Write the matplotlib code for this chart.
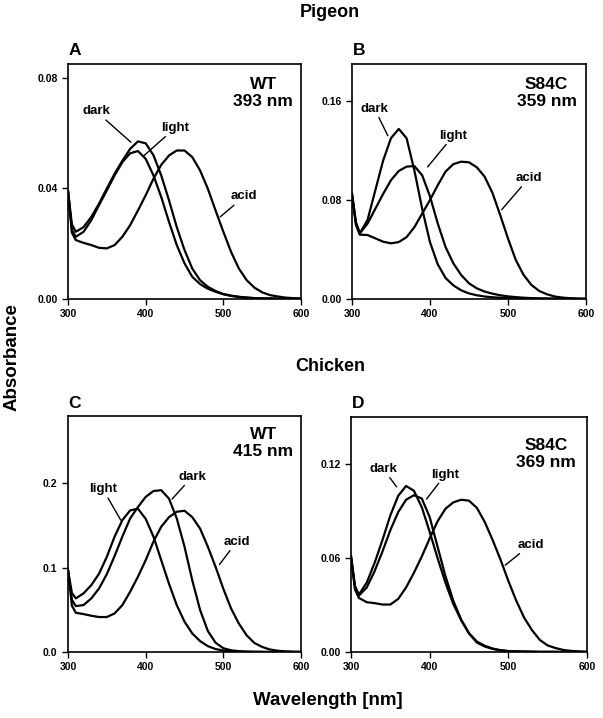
import matplotlib
matplotlib.use("Agg")
import matplotlib.pyplot as plt

plt.rcParams["font.family"] = ["Liberation Sans", "DejaVu Sans"]
plt.rcParams["font.weight"] = "bold"

# ---------- Data ----------
wavelength = [300, 305, 310, 320, 330, 340, 350, 360, 370, 380, 390, 400, 410, 420, 430, 440,
              450, 460, 470, 480, 490, 500, 510, 520, 530, 540, 550, 560, 570, 580, 590, 600]

# Pigeon WT (A)
pig_wt_dark = [0.039, 0.027, 0.0243, 0.026, 0.0297, 0.0345, 0.040, 0.0453, 0.050, 0.0543, 0.057,
               0.0563, 0.052, 0.0447, 0.0357, 0.026, 0.0177, 0.011, 0.0068, 0.0044, 0.0029, 0.0018,
               0.0012, 0.0008, 0.0005, 0.0003, 0.0002, 0.0002, 0.0001, 0.0001, 0.0001, 0.0]
pig_wt_light = [0.039, 0.025, 0.0225, 0.0243, 0.0285, 0.034, 0.0393, 0.0447, 0.0495, 0.0527, 0.0535,
                0.0507, 0.0447, 0.0369, 0.0279, 0.0195, 0.0129, 0.008, 0.0054, 0.0037, 0.0026, 0.0017,
                0.0011, 0.0007, 0.0005, 0.0003, 0.0002, 0.0002, 0.0001, 0.0001, 0.0001, 0.0]
pig_wt_acid = [0.039, 0.024, 0.0213, 0.0203, 0.0195, 0.0185, 0.0183, 0.0195, 0.0225, 0.0267, 0.032,
               0.0375, 0.0435, 0.0485, 0.0519, 0.0537, 0.0537, 0.0513, 0.0465, 0.0399, 0.032, 0.0243,
               0.017, 0.011, 0.0068, 0.0041, 0.0024, 0.0014, 0.0009, 0.0005, 0.0003, 0.0002]

# Pigeon S84C (B)
pig_mut_dark = [0.085, 0.062, 0.053, 0.064, 0.088, 0.112, 0.130, 0.1375, 0.130, 0.104, 0.073, 0.046,
                0.028, 0.017, 0.011, 0.007, 0.0045, 0.003, 0.002, 0.0014, 0.001, 0.0007, 0.0005,
                0.0004, 0.0003, 0.0002, 0.0002, 0.0001, 0.0001, 0.0001, 0.0, 0.0]
pig_mut_light = [0.085, 0.062, 0.053, 0.061, 0.073, 0.085, 0.096, 0.1035, 0.107, 0.1075, 0.100, 0.083,
                 0.061, 0.042, 0.0288, 0.0194, 0.0127, 0.0086, 0.006, 0.0043, 0.003, 0.0021, 0.0015,
                 0.001, 0.0007, 0.0005, 0.0004, 0.0003, 0.0002, 0.0002, 0.0001, 0.0]
pig_mut_acid = [0.085, 0.06, 0.052, 0.0517, 0.049, 0.0463, 0.045, 0.046, 0.050, 0.058, 0.069, 0.080,
                0.092, 0.103, 0.109, 0.111, 0.1105, 0.1065, 0.099, 0.086, 0.068, 0.049, 0.0316,
                0.0195, 0.0114, 0.0065, 0.0038, 0.002, 0.0011, 0.0006, 0.0003, 0.0002]

# Chicken WT (C)
chk_wt_dark = [0.097, 0.062, 0.0545, 0.0557, 0.0636, 0.0755, 0.0925, 0.114, 0.137, 0.1585, 0.172,
               0.184, 0.191, 0.192, 0.182, 0.1585, 0.125, 0.085, 0.05, 0.025, 0.011, 0.0045, 0.002,
               0.001, 0.0005, 0.0003, 0.0002, 0.0001, 0.0001, 0.0, 0.0, 0.0]
chk_wt_light = [0.097, 0.07, 0.0636, 0.0696, 0.0794, 0.093, 0.113, 0.137, 0.1565, 0.168, 0.170, 0.158,
                0.137, 0.109, 0.081, 0.0557, 0.036, 0.022, 0.013, 0.007, 0.0035, 0.0018, 0.0008,
                0.0004, 0.0002, 0.0001, 0.0001, 0.0, 0.0, 0.0, 0.0, 0.0]
chk_wt_acid = [0.097, 0.055, 0.0466, 0.045, 0.043, 0.0415, 0.0415, 0.0458, 0.0557, 0.0715, 0.0893,
               0.109, 0.131, 0.1486, 0.160, 0.1664, 0.1676, 0.160, 0.1465, 0.125, 0.101, 0.075,
               0.0515, 0.0337, 0.0198, 0.0107, 0.006, 0.003, 0.0015, 0.0008, 0.0004, 0.0002]

# Chicken S84C (D)
chk_mut_dark = [0.061, 0.042, 0.0366, 0.0443, 0.0569, 0.0715, 0.0872, 0.0997, 0.106, 0.1029, 0.0924,
                0.0767, 0.060, 0.0443, 0.0307, 0.0203, 0.0119, 0.0067, 0.004, 0.0022, 0.0012, 0.0006,
                0.0004, 0.0003, 0.0002, 0.0001, 0.0001, 0.0001, 0.0, 0.0, 0.0, 0.0]
chk_mut_light = [0.061, 0.042, 0.036, 0.0412, 0.0516, 0.0642, 0.0778, 0.0893, 0.0972, 0.1001, 0.098,
                 0.0861, 0.0673, 0.0485, 0.0328, 0.0207, 0.0119, 0.006, 0.0035, 0.002, 0.001, 0.0006,
                 0.0004, 0.0003, 0.0002, 0.0001, 0.0001, 0.0001, 0.0, 0.0, 0.0, 0.0]
chk_mut_acid = [0.061, 0.04, 0.0345, 0.0318, 0.0312, 0.0303, 0.0303, 0.0339, 0.0412, 0.0506, 0.061,
                0.0725, 0.0834, 0.0914, 0.0955, 0.0972, 0.0966, 0.092, 0.083, 0.0715, 0.059, 0.0454,
                0.0328, 0.022, 0.014, 0.0077, 0.0042, 0.0025, 0.0013, 0.0007, 0.0004, 0.0002]

x_ticks = [300, 400, 500, 600]
y_ticks_a = [0.0, 0.04, 0.08]
y_ticks_b = [0.0, 0.08, 0.16]
y_ticks_c = [0.0, 0.1, 0.2]
y_ticks_d = [0.0, 0.06, 0.12]

# ---------- Layout ----------
panels = [
    dict(letter="A", rect=[0.1128, 0.5836, 0.3864, 0.3273], curves=[pig_wt_dark, pig_wt_light, pig_wt_acid],
         ylim=0.085, yticks=y_ticks_a, fmt="{:.2f}", tag="WT\n393 nm", tag_pos=(0.838, 0.875),
         notes=[("dark", (381, 0.0567), (336, 0.0679)),
                ("light", (398, 0.0519), (438, 0.0619)),
                ("acid", (496, 0.0297), (527, 0.0371))]),
    dict(letter="B", rect=[0.5837, 0.5836, 0.3880, 0.3273], curves=[pig_mut_dark, pig_mut_light, pig_mut_acid],
         ylim=0.19, yticks=y_ticks_b, fmt="{:.2f}", tag="S84C\n359 nm", tag_pos=(0.832, 0.875),
         notes=[("dark", (346, 0.132), (329, 0.1538)),
                ("light", (397, 0.1068), (430, 0.132)),
                ("acid", (492, 0.0722), (527, 0.0978))]),
    dict(letter="C", rect=[0.1128, 0.0919, 0.3864, 0.3287], curves=[chk_wt_dark, chk_wt_light, chk_wt_acid],
         ylim=0.28, yticks=y_ticks_c, fmt="{:.1f}", tag="WT\n415 nm", tag_pos=(0.838, 0.884),
         notes=[("light", (368, 0.1564), (345, 0.193)),
                ("dark", (434, 0.1814), (460, 0.208)),
                ("acid", (495, 0.1038), (517, 0.1307))]),
    dict(letter="D", rect=[0.5821, 0.0919, 0.3914, 0.3273], curves=[chk_mut_dark, chk_mut_light, chk_mut_acid],
         ylim=0.15, yticks=y_ticks_d, fmt="{:.2f}", tag="S84C\n369 nm", tag_pos=(0.826, 0.843),
         notes=[("dark", (358, 0.1054), (341, 0.1169)),
                ("light", (396, 0.0976), (420, 0.1133)),
                ("acid", (496, 0.0554), (528, 0.0684))]),
]

fig = plt.figure(figsize=(6.03, 7.18), dpi=100)

for p in panels:
    ax = fig.add_axes(p["rect"])
    for ys in p["curves"]:
        ax.plot(wavelength, ys, color="black", lw=1.6)
    ax.set_xlim(300, 600)
    ax.set_ylim(0, p["ylim"])
    ax.set_xticks(x_ticks)
    ax.set_yticks(p["yticks"])
    ax.set_yticklabels([p["fmt"].format(v) for v in p["yticks"]])
    ax.tick_params(direction="out", length=4, width=1, labelsize=7.5, top=False, right=False)
    for s in ax.spines.values():
        s.set_linewidth(1.2)
    ax.text(p["tag_pos"][0], p["tag_pos"][1], p["tag"], transform=ax.transAxes,
            ha="center", va="center", fontsize=12.5, fontweight="bold", linespacing=1.15)
    for label, xy, xytext in p["notes"]:
        ax.annotate(label, xy=xy, xytext=xytext, ha="center", va="center", fontsize=9.5,
                    fontweight="bold",
                    arrowprops=dict(arrowstyle="-", lw=1, color="black", shrinkA=0, shrinkB=0))

fig.text(0.124, 0.930, "A", fontsize=12.5, fontweight="bold", ha="center", va="center")
fig.text(0.595, 0.930, "B", fontsize=12.5, fontweight="bold", ha="center", va="center")
fig.text(0.124, 0.4387, "C", fontsize=12.5, fontweight="bold", ha="center", va="center")
fig.text(0.594, 0.4387, "D", fontsize=12.5, fontweight="bold", ha="center", va="center")

fig.text(0.547, 0.983, "Pigeon", fontsize=13, fontweight="bold", ha="center", va="center")
fig.text(0.547, 0.489, "Chicken", fontsize=13, fontweight="bold", ha="center", va="center")
fig.text(0.020, 0.503, "Absorbance", fontsize=13.5, fontweight="bold", ha="center", va="center",
         rotation=90)
fig.text(0.5435, 0.025, "Wavelength [nm]", fontsize=13.5, fontweight="bold", ha="center", va="center")

fig.savefig("out.png", dpi=100)
plt.close(fig)
